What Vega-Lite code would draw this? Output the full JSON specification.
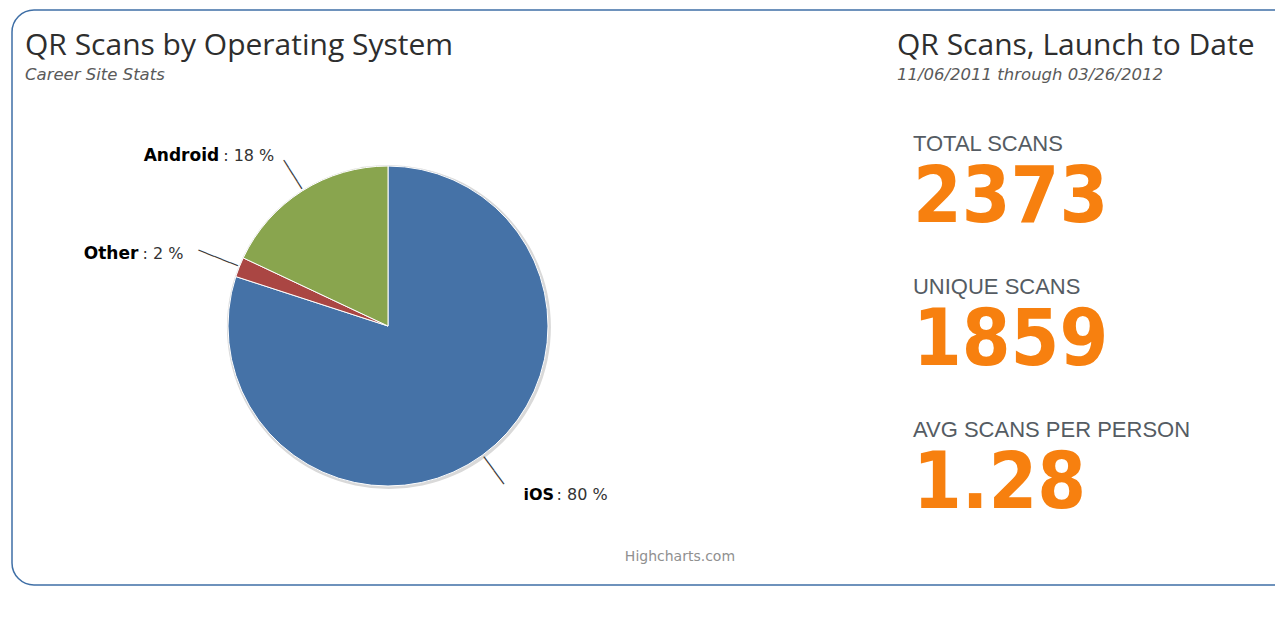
{
  "$schema": "https://vega.github.io/schema/vega-lite/v6.json",
  "width": 1293,
  "height": 575,
  "autosize": {"type": "none"},
  "padding": {"left": 12, "top": 10, "right": -30, "bottom": 51},
  "background": "#ffffff",
  "config": {
    "view": {"stroke": "#3f6fa6", "strokeWidth": 1.5, "cornerRadius": 22},
    "text": {"font": "DejaVu Sans"}
  },
  "datasets": {
    "os": [
      {"os": "iOS", "share": 80, "slot": 1, "suffix": ": 80 %"},
      {"os": "Other", "share": 2, "slot": 2, "suffix": ": 2 %"},
      {"os": "Android", "share": 18, "slot": 3, "suffix": ": 18 %"}
    ],
    "headings": [
      {"panel": "left", "heading": "QR Scans by Operating System", "sub": "Career Site Stats"},
      {"panel": "right", "heading": "QR Scans, Launch to Date", "sub": "11/06/2011 through 03/26/2012"}
    ],
    "stats": [
      {"metric": "TOTAL SCANS", "value": 2373},
      {"metric": "UNIQUE SCANS", "value": 1859},
      {"metric": "AVG SCANS PER PERSON", "value": 1.28}
    ],
    "credits": [{"credit": "Highcharts.com"}]
  },
  "resolve": {"scale": {"x": "independent", "y": "independent"}},
  "layer": [
    {
      "data": {"name": "os"},
      "mark": {"type": "arc", "outerRadius": 162, "fill": "#d9d9d9", "stroke": null},
      "encoding": {
        "theta": {"field": "share", "type": "quantitative", "stack": true},
        "order": {"field": "slot", "type": "quantitative"},
        "x": {"datum": 0.2915, "type": "quantitative", "scale": {"domain": [0, 1], "nice": false, "zero": false}, "axis": null},
        "y": {"datum": 0.5515, "type": "quantitative", "scale": {"domain": [0, 1], "nice": false, "zero": false, "reverse": true}, "axis": null}
      }
    },
    {
      "data": {"name": "os"},
      "mark": {"type": "arc", "outerRadius": 160, "stroke": "#ffffff", "strokeWidth": 1},
      "encoding": {
        "theta": {"field": "share", "type": "quantitative", "stack": true},
        "order": {"field": "slot", "type": "quantitative"},
        "color": {"field": "os", "type": "nominal", "scale": {"domain": ["iOS", "Other", "Android"], "range": ["#4572A7", "#AA4643", "#89A54E"]}, "legend": null},
        "x": {"datum": 0.2908, "type": "quantitative", "scale": {"domain": [0, 1], "nice": false, "zero": false}, "axis": null},
        "y": {"datum": 0.5496, "type": "quantitative", "scale": {"domain": [0, 1], "nice": false, "zero": false, "reverse": true}, "axis": null}
      }
    },
    {
      "data": {"name": "os"},
      "mark": {"type": "text", "radius": 179, "angle": 57.6, "align": "center", "baseline": "middle", "font": "DejaVu Sans Mono", "fontSize": 14, "color": "#3a3a3a"},
      "encoding": {
        "theta": {"field": "share", "type": "quantitative", "stack": true},
        "order": {"field": "slot", "type": "quantitative"},
        "text": {"condition": {"test": "datum.os === 'Android'", "value": "────"}, "value": ""},
        "x": {"datum": 0.2908, "type": "quantitative", "scale": {"domain": [0, 1], "nice": false, "zero": false}, "axis": null},
        "y": {"datum": 0.5496, "type": "quantitative", "scale": {"domain": [0, 1], "nice": false, "zero": false, "reverse": true}, "axis": null}
      }
    },
    {
      "data": {"name": "os"},
      "mark": {"type": "text", "radius": 183, "angle": 21.6, "align": "center", "baseline": "middle", "font": "DejaVu Sans Mono", "fontSize": 14, "color": "#3a3a3a"},
      "encoding": {
        "theta": {"field": "share", "type": "quantitative", "stack": true},
        "order": {"field": "slot", "type": "quantitative"},
        "text": {"condition": {"test": "datum.os === 'Other'", "value": "─────"}, "value": ""},
        "x": {"datum": 0.2908, "type": "quantitative", "scale": {"domain": [0, 1], "nice": false, "zero": false}, "axis": null},
        "y": {"datum": 0.5496, "type": "quantitative", "scale": {"domain": [0, 1], "nice": false, "zero": false, "reverse": true}, "axis": null}
      }
    },
    {
      "data": {"name": "os"},
      "mark": {"type": "text", "radius": 179, "angle": 54, "align": "center", "baseline": "middle", "font": "DejaVu Sans Mono", "fontSize": 14, "color": "#3a3a3a"},
      "encoding": {
        "theta": {"field": "share", "type": "quantitative", "stack": true},
        "order": {"field": "slot", "type": "quantitative"},
        "text": {"condition": {"test": "datum.os === 'iOS'", "value": "────"}, "value": ""},
        "x": {"datum": 0.2908, "type": "quantitative", "scale": {"domain": [0, 1], "nice": false, "zero": false}, "axis": null},
        "y": {"datum": 0.5496, "type": "quantitative", "scale": {"domain": [0, 1], "nice": false, "zero": false, "reverse": true}, "axis": null}
      }
    },
    {
      "data": {"name": "os"},
      "mark": {"type": "text", "radius": 205, "align": "right", "baseline": "middle", "dx": -59, "dy": 3, "fontWeight": "bold", "fontSize": 17, "color": "#000000"},
      "encoding": {
        "theta": {"field": "share", "type": "quantitative", "stack": true},
        "order": {"field": "slot", "type": "quantitative"},
        "text": {"condition": {"test": "datum.os !== 'iOS'", "field": "os", "type": "nominal"}, "value": ""},
        "x": {"datum": 0.2908, "type": "quantitative", "scale": {"domain": [0, 1], "nice": false, "zero": false}, "axis": null},
        "y": {"datum": 0.5496, "type": "quantitative", "scale": {"domain": [0, 1], "nice": false, "zero": false, "reverse": true}, "axis": null}
      }
    },
    {
      "data": {"name": "os"},
      "mark": {"type": "text", "radius": 205, "align": "left", "baseline": "middle", "dx": -55, "dy": 3, "fontSize": 16, "color": "#333333"},
      "encoding": {
        "theta": {"field": "share", "type": "quantitative", "stack": true},
        "order": {"field": "slot", "type": "quantitative"},
        "text": {"condition": {"test": "datum.os !== 'iOS'", "field": "suffix", "type": "nominal"}, "value": ""},
        "x": {"datum": 0.2908, "type": "quantitative", "scale": {"domain": [0, 1], "nice": false, "zero": false}, "axis": null},
        "y": {"datum": 0.5496, "type": "quantitative", "scale": {"domain": [0, 1], "nice": false, "zero": false, "reverse": true}, "axis": null}
      }
    },
    {
      "data": {"name": "os"},
      "mark": {"type": "text", "radius": 205, "align": "left", "baseline": "middle", "dx": 15, "dy": 3, "fontWeight": "bold", "fontSize": 16, "color": "#000000"},
      "encoding": {
        "theta": {"field": "share", "type": "quantitative", "stack": true},
        "order": {"field": "slot", "type": "quantitative"},
        "text": {"condition": {"test": "datum.os === 'iOS'", "field": "os", "type": "nominal"}, "value": ""},
        "x": {"datum": 0.2908, "type": "quantitative", "scale": {"domain": [0, 1], "nice": false, "zero": false}, "axis": null},
        "y": {"datum": 0.5496, "type": "quantitative", "scale": {"domain": [0, 1], "nice": false, "zero": false, "reverse": true}, "axis": null}
      }
    },
    {
      "data": {"name": "os"},
      "mark": {"type": "text", "radius": 205, "align": "left", "baseline": "middle", "dx": 48, "dy": 3, "fontSize": 16, "color": "#333333"},
      "encoding": {
        "theta": {"field": "share", "type": "quantitative", "stack": true},
        "order": {"field": "slot", "type": "quantitative"},
        "text": {"condition": {"test": "datum.os === 'iOS'", "field": "suffix", "type": "nominal"}, "value": ""},
        "x": {"datum": 0.2908, "type": "quantitative", "scale": {"domain": [0, 1], "nice": false, "zero": false}, "axis": null},
        "y": {"datum": 0.5496, "type": "quantitative", "scale": {"domain": [0, 1], "nice": false, "zero": false, "reverse": true}, "axis": null}
      }
    },
    {
      "data": {"name": "headings"},
      "mark": {"type": "text", "align": "left", "baseline": "alphabetic", "font": "Open Sans", "fontSize": 30, "color": "#2e2e2e"},
      "encoding": {
        "text": {"field": "heading", "type": "nominal"},
        "x": {"field": "panel", "type": "nominal", "scale": {"type": "point", "domain": ["left", "right"], "range": [13, 885], "padding": 0}, "axis": null},
        "y": {"datum": 0.0783, "type": "quantitative", "scale": {"domain": [0, 1], "nice": false, "zero": false, "reverse": true}, "axis": null}
      }
    },
    {
      "data": {"name": "headings"},
      "mark": {"type": "text", "align": "left", "baseline": "alphabetic", "fontStyle": "italic", "fontSize": 16.5, "color": "#5a5a5a"},
      "encoding": {
        "text": {"field": "sub", "type": "nominal"},
        "x": {"field": "panel", "type": "nominal", "scale": {"type": "point", "domain": ["left", "right"], "range": [13, 885], "padding": 0}, "axis": null},
        "y": {"datum": 0.121, "type": "quantitative", "scale": {"domain": [0, 1], "nice": false, "zero": false, "reverse": true}, "axis": null}
      }
    },
    {
      "data": {"name": "stats"},
      "mark": {"type": "text", "align": "left", "baseline": "alphabetic", "font": "Liberation Sans", "fontSize": 22, "color": "#555c63"},
      "encoding": {
        "text": {"field": "metric", "type": "nominal"},
        "x": {"datum": 0.6968, "type": "quantitative", "scale": {"domain": [0, 1], "nice": false, "zero": false}, "axis": null},
        "y": {"field": "metric", "type": "nominal", "sort": null, "scale": {"type": "point", "domain": ["TOTAL SCANS", "UNIQUE SCANS", "AVG SCANS PER PERSON"], "range": [141, 427], "padding": 0}, "axis": null}
      }
    },
    {
      "data": {"name": "stats"},
      "mark": {"type": "text", "align": "left", "baseline": "alphabetic", "dy": 71, "font": "DejaVu Sans Condensed", "fontWeight": "bold", "fontSize": 78, "color": "#f7800f"},
      "encoding": {
        "text": {"field": "value", "type": "nominal"},
        "x": {"datum": 0.6968, "type": "quantitative", "scale": {"domain": [0, 1], "nice": false, "zero": false}, "axis": null},
        "y": {"field": "metric", "type": "nominal", "sort": null, "scale": {"type": "point", "domain": ["TOTAL SCANS", "UNIQUE SCANS", "AVG SCANS PER PERSON"], "range": [141, 427], "padding": 0}, "axis": null}
      }
    },
    {
      "data": {"name": "credits"},
      "mark": {"type": "text", "align": "center", "baseline": "alphabetic", "fontSize": 14, "color": "#909090"},
      "encoding": {
        "text": {"field": "credit", "type": "nominal"},
        "x": {"datum": 0.5166, "type": "quantitative", "scale": {"domain": [0, 1], "nice": false, "zero": false}, "axis": null},
        "y": {"datum": 0.9583, "type": "quantitative", "scale": {"domain": [0, 1], "nice": false, "zero": false, "reverse": true}, "axis": null}
      }
    }
  ]
}
